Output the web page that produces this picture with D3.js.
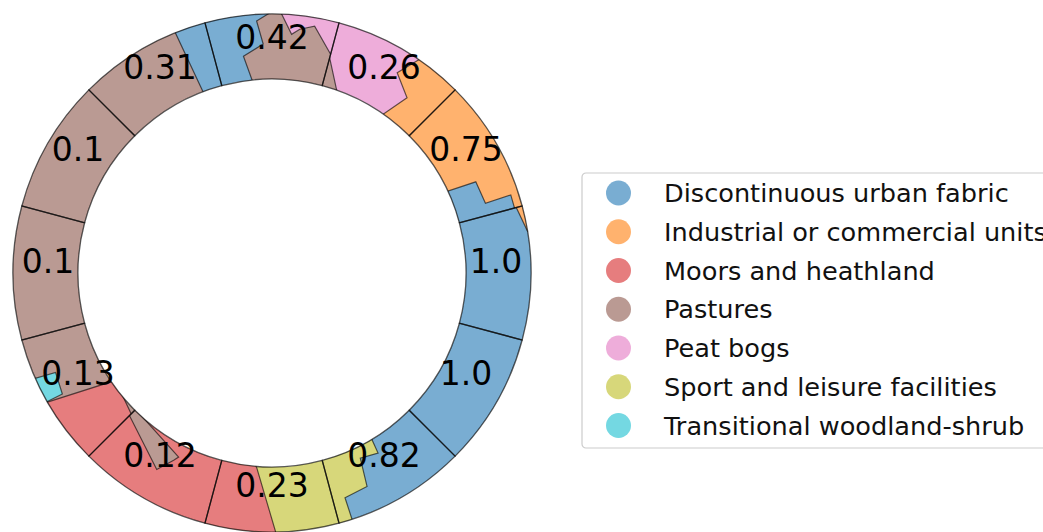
<!DOCTYPE html>
<html>
<head>
<meta charset="utf-8">
<script src="https://cdn.jsdelivr.net/npm/d3@7/dist/d3.min.js"></script>
<style>
  body { margin: 0; background: #fff; }
  svg { display: block; font-family: "DejaVu Sans", sans-serif; }
</style>
</head>
<body>
<div id="chart"></div>
<script>
// land cover classes (legend order)
const classNames = [
  "Discontinuous urban fabric",
  "Industrial or commercial units",
  "Moors and heathland",
  "Pastures",
  "Peat bogs",
  "Sport and leisure facilities",
  "Transitional woodland-shrub"
];
const classColors = ["#1f77b4", "#ff7f0e", "#d62728", "#8c564b", "#e377c2", "#bcbd22", "#17becf"];

// 12 sectors, centre angle in degrees (counter-clockwise from east)
const sectorAngles = [0, 30, 60, 90, 120, 150, 180, 210, 240, 270, 300, 330];
const sectorLabels = ["1.0", "0.75", "0.26", "0.42", "0.31", "0.1", "0.1", "0.13", "0.12", "0.23", "0.82", "1.0"];
// class that fills each sector's background
const sectorBase = [0, 1, 4, 3, 3, 3, 3, 3, 2, 5, 0, 0];

// patches inside sectors: [angle deg, radial fraction 0=inner 1=outer]
const patches = [
  { sector: 0, cls: 1, pts: [[15.5, 0.9], [9.2, 1.0], [9.2, 1.1], [16, 1.1]] },
  { sector: 1, cls: 0, pts: [[14, -0.1], [25.2, -0.1], [24.1, 0.45], [18.1, 0.47], [18.1, 0.88], [14, 0.88]] },
  { sector: 2, cls: 1, pts: [[44, -0.1], [55.7, -0.1], [52.4, 0.42], [58, 0.65], [54.8, 1.1], [44, 1.1]] },
  { sector: 2, cls: 3, pts: [[69.3, -0.1], [75.4, 0.49], [76, 0.49], [76, -0.1]] },
  { sector: 3, cls: 4, pts: [[88.6, 1.1], [85.3, 0.7], [83.5, 0.79], [80.2, 0.87], [75, 0.5], [74, 0.5], [74, 1.1]] },
  { sector: 3, cls: 0, pts: [[106, -0.1], [95.4, -0.1], [97.5, 0.38], [92.2, 0.54], [93.5, 0.9], [88.6, 1.1], [106, 1.1]] },
  { sector: 4, cls: 0, pts: [[104, -0.1], [110.7, -0.1], [112, 1.1], [104, 1.1]] },
  { sector: 7, cls: 2, pts: [[209.6, 1.1], [214.2, -0.02], [218.7, -0.02], [226, 0.1], [226, 1.1]] },
  { sector: 7, cls: 6, pts: [[203.8, 1.1], [204.7, 0.68], [210, 0.74], [209.7, 1.1]] },
  { sector: 8, cls: 3, pts: [[224, 0.1], [239.6, 0.52], [242.3, 0.27], [243.1, 0.19], [224, -0.02]] },
  { sector: 9, cls: 2, pts: [[254, -0.1], [264.6, -0.1], [271.2, 1.1], [254, 1.1]] },
  { sector: 10, cls: 5, pts: [[284, -0.1], [301.2, -0.1], [300.5, 0.23], [295.5, 0.17], [294, 0.61], [288, 0.65], [288, 1.1], [284, 1.1]] }
];

const width = 1043, height = 532;
const cx = 272, cy = 273;
const rIn = 194, rOut = 259;
const halfWidth = 15;

const svg = d3.select("#chart").append("svg")
  .attr("width", width)
  .attr("height", height);

const toRad = d3.scaleLinear().domain([0, 360]).range([0, 2 * Math.PI]);
const radius = d3.scaleLinear().domain([0, 1]).range([rIn, rOut]);

function project(p) {
  const a = toRad(p[0]), r = radius(p[1]);
  return [cx + r * Math.cos(a), cy - r * Math.sin(a)];
}

// d3.arc measures from 12 o'clock clockwise
const arc = d3.arc()
  .innerRadius(rIn)
  .outerRadius(rOut)
  .startAngle(d => toRad(90 - d - halfWidth))
  .endAngle(d => toRad(90 - d + halfWidth));

const line = d3.line().curve(d3.curveLinearClosed);

const defs = svg.append("defs");
const ring = svg.append("g");

sectorAngles.forEach((ang, i) => {
  defs.append("clipPath").attr("id", "clip" + i)
    .append("path")
    .attr("transform", `translate(${cx},${cy})`)
    .attr("d", arc(ang));

  const g = ring.append("g").attr("clip-path", `url(#clip${i})`);
  g.append("path")
    .attr("transform", `translate(${cx},${cy})`)
    .attr("d", arc(ang))
    .attr("fill", classColors[sectorBase[i]])
    .attr("fill-opacity", 0.6);

  g.selectAll("path.patch")
    .data(patches.filter(p => p.sector === i))
    .enter().append("path")
    .attr("class", "patch")
    .attr("d", d => line(d.pts.map(project)))
    .attr("fill", d => d3.interpolateRgb("#fff", classColors[d.cls])(0.6))
    .attr("stroke", "#000")
    .attr("stroke-opacity", 0.6)
    .attr("stroke-width", 1.2);
});

// sector outlines on top
ring.selectAll("path.outline")
  .data(sectorAngles)
  .enter().append("path")
  .attr("class", "outline")
  .attr("transform", `translate(${cx},${cy})`)
  .attr("d", d => arc(d))
  .attr("fill", "none")
  .attr("stroke", "#000")
  .attr("stroke-opacity", 0.65)
  .attr("stroke-width", 1.3);

// values
svg.append("g").selectAll("text")
  .data(sectorAngles)
  .enter().append("text")
  .attr("x", d => project([d, 0.46])[0])
  .attr("y", d => project([d, 0.46])[1])
  .attr("text-anchor", "middle")
  .attr("font-size", 33)
  .attr("fill", "#000")
  .text((d, i) => sectorLabels[i]);

// legend
const legend = svg.append("g").attr("transform", "translate(582,173)");
legend.append("rect")
  .attr("x", 0).attr("y", 0)
  .attr("width", 520).attr("height", 275)
  .attr("rx", 4)
  .attr("fill", "#fff")
  .attr("stroke", "#cccccc")
  .attr("stroke-width", 1.2);

const rowY = d3.scaleLinear().domain([0, classNames.length - 1]).range([20, 252.5]);
const item = legend.selectAll("g.item")
  .data(classNames)
  .enter().append("g")
  .attr("class", "item")
  .attr("transform", (d, i) => `translate(0,${rowY(i)})`);

item.append("circle")
  .attr("cx", 36.5).attr("cy", 0).attr("r", 12.5)
  .attr("fill", (d, i) => classColors[i])
  .attr("fill-opacity", 0.6);

item.append("text")
  .attr("x", 82).attr("y", 0)
  .attr("dy", "0.36em")
  .attr("font-size", 25.6)
  .attr("fill", "#111")
  .text(d => d);
</script>
</body>
</html>
